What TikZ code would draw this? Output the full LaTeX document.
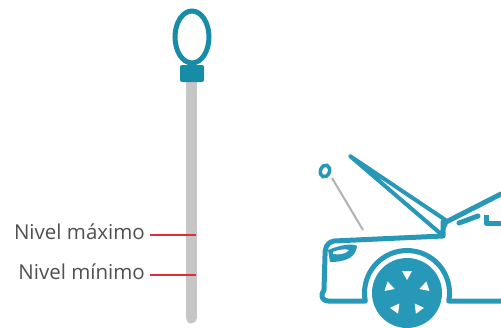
\documentclass[tikz,border=0pt]{standalone}
\usepackage{fontspec}
\setmainfont{Open Sans}

\definecolor{dipteal}{RGB}{23,140,166}
\definecolor{carteal}{RGB}{40,152,184}
\definecolor{rodgray}{RGB}{198,198,198}
\definecolor{markred}{RGB}{222,44,56}
\definecolor{labelgray}{RGB}{80,80,80}

\tikzset{
    carline/.style={draw=carteal, line width=5pt, line cap=round, line join=round},
    levellabel/.style={anchor=east, text=labelgray, inner sep=0pt,
        font=\fontsize{20.5}{20.5}\selectfont},
    levelmark/.style={draw=markred, line width=2.5pt},
}

\begin{document}
\begin{tikzpicture}[x=1pt,y=-1pt]
        \useasboundingbox (0,0) rectangle (501,327);

        % Dipstick: rod, ring and handle
        \draw[rodgray, line width=11pt, line cap=round] (191,80) -- (191,318);
        \draw[dipteal, line width=5pt] (192,37) ellipse [x radius=17, y radius=26];
        \node[fill=dipteal, minimum width=24pt, minimum height=17pt,
            rounded corners=2pt, inner sep=0pt] (handle) at (192,73.5) {};

        % Level labels with their marks on the rod
        \foreach \y/\name/\txt in {
            232/maxlabel/Nivel máximo,
            272/minlabel/Nivel mínimo
        } {
            \node[levellabel] (\name) at (145,\y) {\txt};
            \coordinate (\name-rod) at (196,\y+3);
            \draw[levelmark] ([xshift=5pt,yshift=-3pt]\name.east) -- (\name-rod);
        }

        % Small dipstick pulled out of the engine
        \draw[rodgray!90!black, line width=2pt] (332,178) -- (363,230);
        \draw[carteal, line width=3.5pt, rotate around={-20:(325,171)}]
            (325,171) ellipse [x radius=4.5, y radius=6];

        % Open hood
        \draw[carline, line width=4pt] (350,156) -- (447,221) -- (441,234) -- cycle;

        % Body: bonnet edge, nose and bumper, wheel arch, sill
        \draw[carline] (443,222) -- (443,236) -- (334,241)
            .. controls (326,243) and (325,248) .. (325,256)
            -- (324,290) .. controls (320,295) and (322,301) .. (328,301)
            -- (365.3,301.1) arc[start angle=169, end angle=371, radius=42.5]
            -- (501,301);

        % Headlight
        \fill[carteal] (328,250) .. controls (340,245) and (352,243) .. (357,246)
            .. controls (356,256) and (348,262) .. (330,262) -- cycle;
        \fill[white] (333,252) .. controls (340,249) and (346,249) .. (349,250)
            .. controls (346,254) and (339,255) .. (333,254) -- cycle;

        % Windshield, wiper and mirror
        \draw[carline] (446,222) -- (501,194);
        \draw[carline] (459,223) -- (478,216);
        \draw[carline, line cap=butt] (486,215) -- (486,223) -- (501,223);

        % Wheel with its holes
        \fill[carteal] (407,293) circle [radius=35];
        \foreach \a in {18,90,162,234,306} {
            \fill[white, shift={(407,293)}, rotate=\a] (13,0) -- (22,-5) -- (22,5) -- cycle;
        }
\end{tikzpicture}
\end{document}
